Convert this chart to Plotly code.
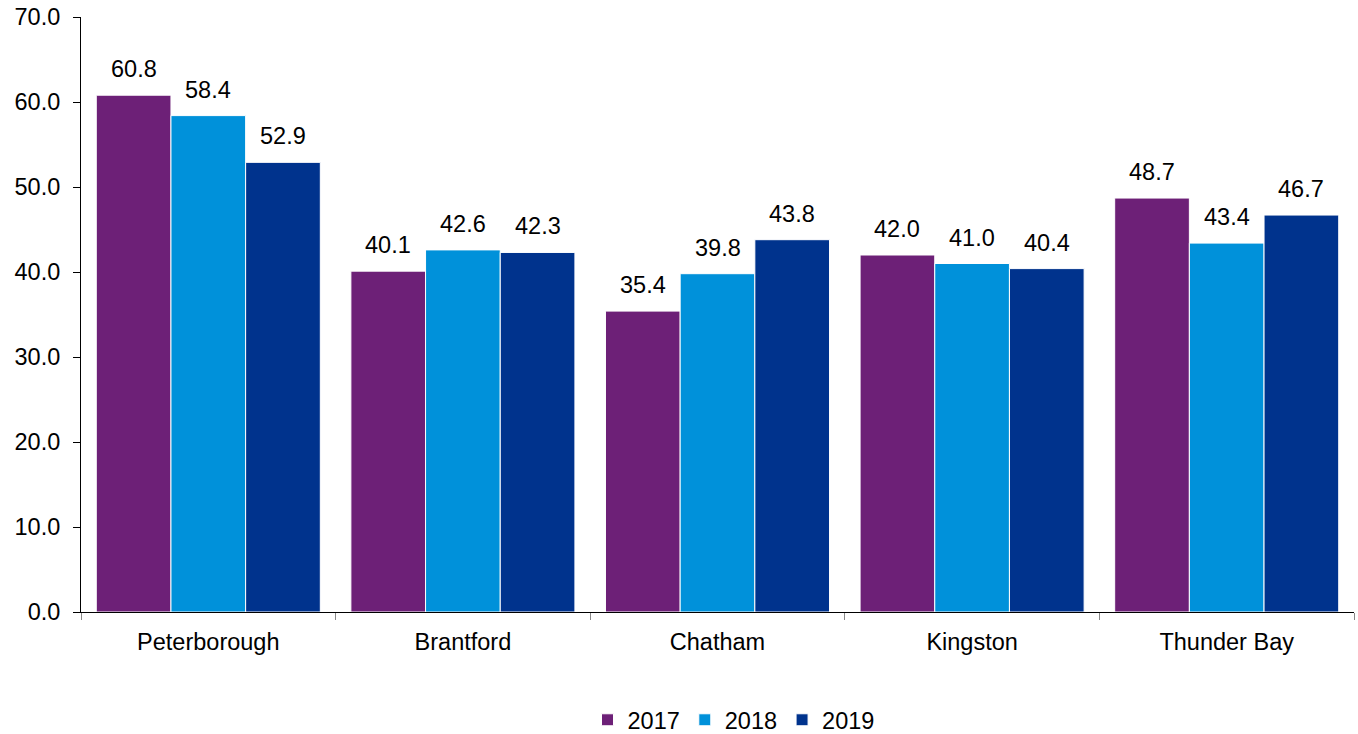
import plotly.graph_objects as go

categories = ["Peterborough", "Brantford", "Chatham", "Kingston", "Thunder Bay"]
years = ["2017", "2018", "2019"]
v2017 = [60.8, 40.1, 35.4, 42.0, 48.7]
v2018 = [58.4, 42.6, 39.8, 41.0, 43.4]
v2019 = [52.9, 42.3, 43.8, 40.4, 46.7]
colors = ["#6D2077", "#0091DA", "#00338D"]

W, H = 1358, 734
ML, MR, MT, MB = 81, 4, 17, 122
BARGAP = 0.12
FONT = 23.5

series = [v2017, v2018, v2019]
fig = go.Figure()
for name, vals, c in zip(years, series, colors):
    fig.add_trace(go.Bar(
        x=categories, y=vals, name=name,
        marker=dict(color=c, line=dict(color="white", width=1)),
    ))

# value labels as annotations above each bar
cat_px = (W - ML - MR) / len(categories)
bar_px = cat_px * (1 - BARGAP) / len(series)
annotations = []
for i, vals in enumerate(series):
    for cat, v in zip(categories, vals):
        annotations.append(dict(
            x=cat, y=v, xref="x", yref="y", text=f"{v:.1f}", showarrow=False,
            xanchor="center", yanchor="bottom", xshift=(i - 1) * bar_px, yshift=11,
            font=dict(size=FONT, color="black"),
        ))

plot_w = W - ML - MR
plot_h = H - MT - MB
fig.update_layout(
    barmode="group", bargap=BARGAP, bargroupgap=0,
    width=W, height=H,
    margin=dict(l=ML, r=MR, t=MT, b=MB, autoexpand=False),
    paper_bgcolor="white", plot_bgcolor="white",
    font=dict(family="Liberation Sans, Arial, sans-serif", size=FONT, color="black"),
    legend=dict(orientation="h", x=0.5 + 16 / plot_w, xanchor="center",
                y=-(720 - (H - MB)) / plot_h, yanchor="middle",
                font=dict(size=FONT), traceorder="normal", itemwidth=30),
    annotations=annotations,
)
fig.update_yaxes(range=[0, 70], dtick=10, tickformat=".1f", showgrid=False,
                 showline=True, linecolor="black", linewidth=1, automargin=False,
                 ticks="outside", ticklen=7, tickcolor="black", zeroline=False,
                 ticklabelstandoff=8, ticklabeloverflow="allow")
fig.update_xaxes(showline=True, linecolor="black", linewidth=1, showgrid=False,
                 automargin=False,
                 ticks="outside", tickson="boundaries", ticklen=7, tickcolor="#888",
                 ticklabelstandoff=9)

fig.write_html("out.html", config={"displayModeBar": False},
               post_script="document.body.style.margin='0';")
